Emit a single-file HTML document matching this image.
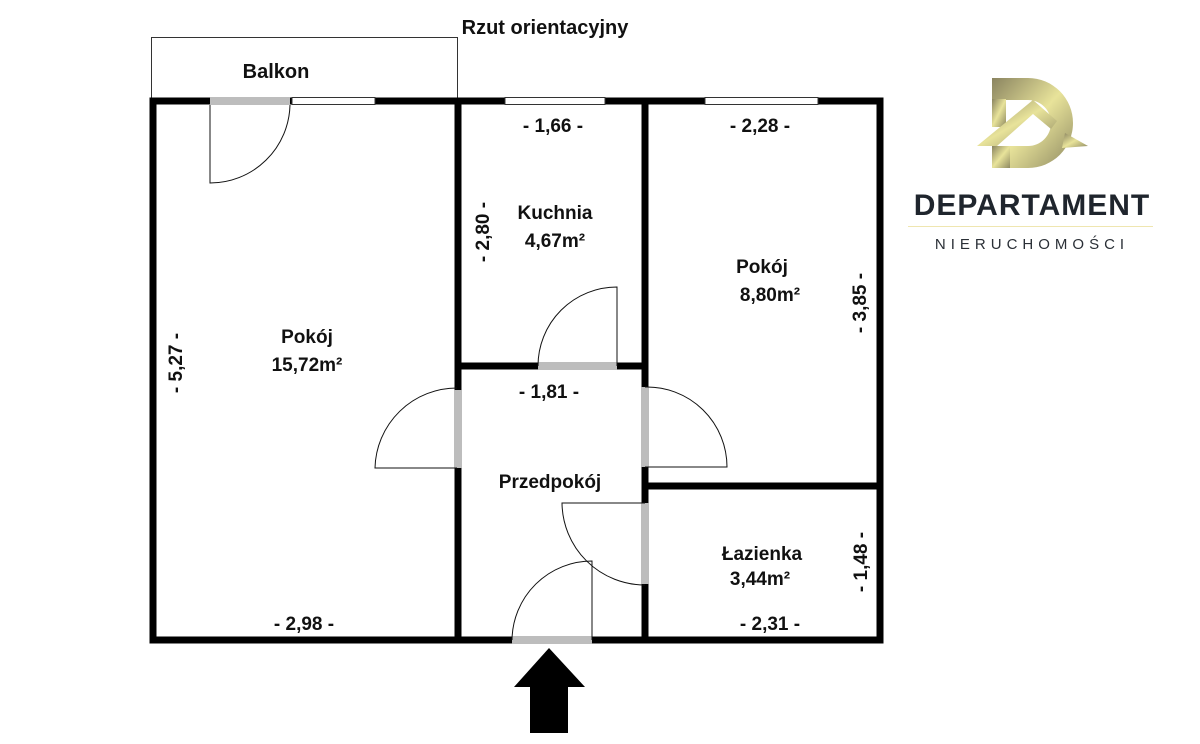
<!DOCTYPE html>
<html><head><meta charset="utf-8"><style>
body{margin:0;background:#fff;}
svg{display:block;}
text{font-family:"Liberation Sans",Arial,sans-serif;font-weight:bold;fill:#111;}
</style></head><body>
<svg width="1200" height="744" viewBox="0 0 1200 744" xmlns="http://www.w3.org/2000/svg">
<defs>
<linearGradient id="g" x1="0" y1="0" x2="1" y2="1">
<stop offset="0" stop-color="#8a8460"/><stop offset="0.5" stop-color="#e8e39a"/><stop offset="1" stop-color="#8f8a62"/>
</linearGradient>
</defs>
<text x="545" y="34" font-size="20" text-anchor="middle">Rzut orientacyjny</text>
<rect x="151.5" y="37.5" width="306" height="61" fill="none" stroke="#333" stroke-width="1"/>
<text x="276" y="78" font-size="20" text-anchor="middle">Balkon</text>
<g stroke="#000" stroke-width="7" fill="none" stroke-linecap="square">
<path d="M153 101 H880 V640 H153 Z"/>
<path d="M458 101 V640"/>
<path d="M645 101 V640"/>
<path d="M458 366 H645"/>
<path d="M645 486 H880"/>
</g>
<g fill="#fff" stroke="#333" stroke-width="1">
<rect x="292" y="97.5" width="83" height="7"/>
<rect x="505" y="97.5" width="100" height="7"/>
<rect x="705" y="97.5" width="113" height="7"/>
</g>
<g fill="#bdbdbd">
<rect x="210" y="97" width="80" height="8"/>
<rect x="538" y="362" width="79" height="8"/>
<rect x="454" y="390" width="8" height="78"/>
<rect x="641" y="387" width="8" height="80"/>
<rect x="641" y="503" width="8" height="81"/>
<rect x="512" y="636" width="80" height="8"/>
</g>
<g stroke="#111" stroke-width="1" fill="none">
<path d="M210 105 V183 A80 80 0 0 0 290 105"/>
<path d="M617 366 V287 A79 79 0 0 0 538 366"/>
<path d="M457 468 H375 A82 82 0 0 1 457 388"/>
<path d="M645 467 H727 A80 80 0 0 0 645 387"/>
<path d="M645 503 H562 A83 83 0 0 0 645 585"/>
<path d="M592 640 V561 A80 80 0 0 0 512 640"/>
</g>
<polygon points="549,648 585,687 568,687 568,733 530,733 530,687 514,687" fill="#000"/>
<g font-size="19" text-anchor="middle">
<text x="553" y="132">- 1,66 -</text>
<text x="760" y="132">- 2,28 -</text>
<text x="555" y="219">Kuchnia</text>
<text x="555" y="247">4,67m²</text>
<text x="762" y="273">Pokój</text>
<text x="770" y="301">8,80m²</text>
<text x="307" y="343">Pokój</text>
<text x="307" y="371">15,72m²</text>
<text x="549" y="398">- 1,81 -</text>
<text x="550" y="488">Przedpokój</text>
<text x="762" y="560">Łazienka</text>
<text x="760" y="585">3,44m²</text>
<text x="304" y="630">- 2,98 -</text>
<text x="770" y="630">- 2,31 -</text>
<text transform="translate(489,232) rotate(-90)">- 2,80 -</text>
<text transform="translate(182,363) rotate(-90)">- 5,27 -</text>
<text transform="translate(866,303) rotate(-90)">- 3,85 -</text>
<text transform="translate(867,562) rotate(-90)">- 1,48 -</text>
</g>
<g>
<path d="M992 78 H1028 A45 45 0 0 1 1073 123 A45 45 0 0 1 1028 168 H1005 V146 H1028 A23 23 0 0 0 1051 123 A23 23 0 0 0 1028 100 H992 Z" fill="url(#g)"/>
<rect x="992" y="99" width="14" height="28" fill="url(#g)"/>
<path d="M977 146 L1033 100 L1057 121 L1051 129 L1033 114 L997 146 Z" fill="url(#g)"/>
<path d="M1065 133 L1088 146 L1062 148 Z" fill="url(#g)"/>
<path d="M992 146 H1010 V168 H992 Z" fill="url(#g)"/>
</g>
<text x="1032" y="215" font-size="30" text-anchor="middle" style="fill:#1f252d;letter-spacing:1px">DEPARTAMENT</text>
<rect x="908" y="226" width="245" height="1" fill="#efe6b0"/>
<text x="1032" y="249" font-size="15" text-anchor="middle" style="fill:#2a2f36;font-weight:normal;letter-spacing:5px">NIERUCHOMOŚCI</text>
</svg>
</body></html>
